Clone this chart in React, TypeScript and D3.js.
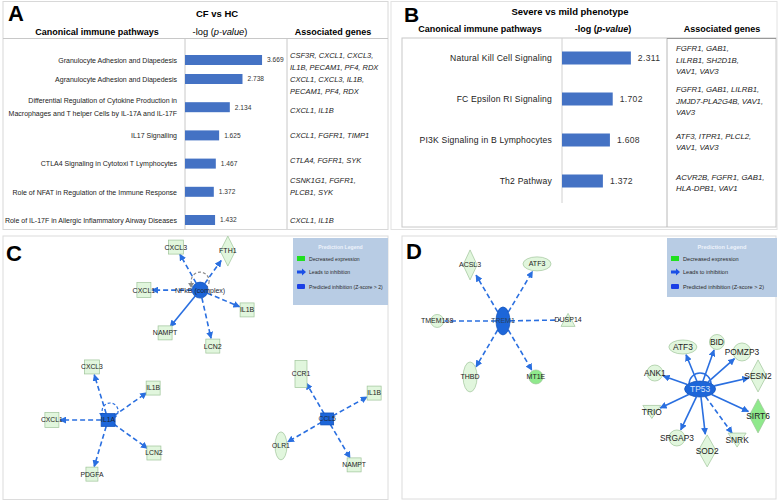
import React from 'react';
import * as d3 from 'd3';

// ---------- Panel A data ----------
const pathwaysA: string[][] = [
  ['Granulocyte Adhesion and Diapedesis'],
  ['Agranulocyte Adhesion and Diapedesis'],
  ['Differential Regulation of Cytokine Production in', 'Macrophages and T helper Cells by IL-17A and IL-17F'],
  ['IL17 Signalling'],
  ['CTLA4 Signaling in Cytotoxi T Lymphocytes'],
  ['Role of NFAT in Regulation of the Immune Response'],
  ['Role of IL-17F in Allergic Inflammatory Airway Diseases'],
];
const valuesA = [3.669, 2.738, 2.134, 1.625, 1.467, 1.372, 1.432];
const genesA: string[][] = [
  ['CSF3R, CXCL1, CXCL3,', 'IL1B, PECAM1, PF4, RDX'],
  ['CXCL1, CXCL3, IL1B,', 'PECAM1, PF4, RDX'],
  ['CXCL1, IL1B'],
  ['CXCL1, FGFR1, TIMP1'],
  ['CTLA4, FGFR1, SYK'],
  ['CSNK1G1, FGFR1,', 'PLCB1, SYK'],
  ['CXCL1, IL1B'],
];

// ---------- Panel B data ----------
const pathwaysB = ['Natural Kill Cell Signaling', 'FC Epsilon RI Signaling', 'PI3K Signaling in B Lymphocytes', 'Th2 Pathway'];
const valuesB = [2.311, 1.702, 1.608, 1.372];
const genesB: string[][] = [
  ['FGFR1, GAB1,', 'LILRB1, SH2D1B,', 'VAV1, VAV3'],
  ['FGFR1, GAB1, LILRB1,', 'JMJD7-PLA2G4B, VAV1,', 'VAV3'],
  ['ATF3, ITPR1, PLCL2,', 'VAV1, VAV3'],
  ['ACVR2B, FGFR1, GAB1,', 'HLA-DPB1, VAV1'],
];

// ---------- Networks (relationships) ----------
const networkC = [
  { hub: 'NFkB (complex)', targets: ['CXCL3', 'FTH1', 'CXCL1', 'IL1B', 'NAMPT', 'LCN2'], dashed: [1, 1, 1, 1, 0, 1], arrow: [1, 1, 1, 1, 1, 1] },
  { hub: 'IL1A', targets: ['CXCL3', 'IL1B', 'CXCL1', 'LCN2', 'PDGFA'], dashed: [1, 1, 1, 1, 1], arrow: [1, 1, 1, 1, 1] },
  { hub: 'CCL5', targets: ['CCR1', 'IL1B', 'OLR1', 'NAMPT'], dashed: [1, 1, 1, 1], arrow: [1, 1, 1, 1] },
];
const networkD = [
  { hub: 'TREM1', targets: ['ACSL3', 'ATF3', 'TMEM158', 'DUSP14', 'THBD', 'MT1E'], dashed: [1, 1, 1, 1, 1, 1], arrow: [1, 1, 0, 0, 1, 1] },
  { hub: 'TP53', targets: ['ATF3', 'BID', 'POMZP3', 'ANK1', 'SESN2', 'SIRT6', 'TRIO', 'SRGAP3', 'SOD2', 'SNRK'], dashed: [0, 0, 0, 0, 0, 0, 0, 0, 0, 1], arrow: [1, 1, 1, 1, 1, 1, 1, 1, 1, 1] },
];
const legendItems = ['Decreased expression', 'Leads to inhibition', 'Predicted inhibition (Z-score > 2)'];

// ---------- Layout (panel units 0..100) ----------
const layoutC = [
  { hub: [51.2, 20.5], nodes: [[44.9, 4.2], [58.4, 5.7], [36.6, 20.5], [63.4, 28.0], [42.1, 36.7], [54.5, 41.7]], loop: { dx: 0, dy: -9, r: 9, color: '#8a8a8a', dash: true, half: false } },
  { hub: [27.3, 69.7], nodes: [[23.1, 49.6], [39.0, 57.6], [12.7, 69.7], [39.2, 82.2], [23.1, 90.2]], loop: { dx: 2, dy: -9, r: 8, color: '#2a6fe0', dash: true, half: false } },
  { hub: [84.2, 69.3], nodes: [[77.4, 52.3], [96.4, 59.5], [72.2, 79.5], [91.2, 86.7]], loop: null },
];
const layoutD = [
  { hub: [27.0, 32.3], nodes: [[18.2, 11.0], [36.1, 10.6], [9.4, 32.3], [44.4, 31.9], [18.2, 53.6], [35.8, 53.6]], loop: null },
  { hub: [79.7, 58.2], nodes: [[75.1, 42.2], [84.2, 40.3], [90.9, 44.1], [67.6, 52.1], [95.2, 53.2], [95.2, 68.4], [66.8, 66.9], [73.5, 76.8], [81.6, 81.7], [89.6, 77.6]], loop: { dx: 0, dy: -9, r: 11, color: '#2a6fe0', dash: false, half: true } },
];

type Shape = 'rect' | 'diamond' | 'ellipse' | 'tri' | 'itri';
interface Spec { s: Shape; w: number; h: number; bright?: boolean }
const shapesC: Record<string, Spec> = {
  'NFkB (complex)': { s: 'ellipse', w: 16, h: 16 },
  IL1A: { s: 'rect', w: 14, h: 13 },
  CCL5: { s: 'rect', w: 13, h: 12 },
  CXCL3: { s: 'rect', w: 15, h: 14 },
  FTH1: { s: 'diamond', w: 15, h: 30 },
  CXCL1: { s: 'rect', w: 14, h: 15 },
  IL1B: { s: 'rect', w: 14, h: 14 },
  NAMPT: { s: 'rect', w: 14, h: 14 },
  LCN2: { s: 'rect', w: 14, h: 14 },
  PDGFA: { s: 'rect', w: 12, h: 14 },
  CCR1: { s: 'rect', w: 12, h: 27 },
  OLR1: { s: 'ellipse', w: 12, h: 28 },
};
const shapesD: Record<string, Spec> = {
  TREM1: { s: 'ellipse', w: 14, h: 28 },
  TP53: { s: 'ellipse', w: 31, h: 16 },
  ACSL3: { s: 'diamond', w: 14, h: 30 },
  ATF3: { s: 'ellipse', w: 28, h: 14 },
  TMEM158: { s: 'ellipse', w: 13, h: 13 },
  DUSP14: { s: 'tri', w: 14, h: 13 },
  THBD: { s: 'ellipse', w: 14, h: 30 },
  MT1E: { s: 'ellipse', w: 14, h: 14, bright: true },
  BID: { s: 'ellipse', w: 15, h: 15 },
  POMZP3: { s: 'ellipse', w: 18, h: 18 },
  ANK1: { s: 'ellipse', w: 16, h: 16 },
  SESN2: { s: 'diamond', w: 17, h: 32 },
  SIRT6: { s: 'diamond', w: 18, h: 34, bright: true },
  TRIO: { s: 'itri', w: 18, h: 13 },
  SRGAP3: { s: 'ellipse', w: 16, h: 16 },
  SOD2: { s: 'diamond', w: 18, h: 32 },
  SNRK: { s: 'itri', w: 18, h: 14 },
};

const BAR = '#4472c4';
const EDGE = '#2a6fe0';
const HUB = '#1d66d9';
const PALE = '#e1f6dd';
const PALE_STROKE = '#9fc49a';
const BRIGHT = '#8fe98c';
const SANS = "'Liberation Sans', Arial, sans-serif";

const xA = d3.scaleLinear().domain([0, 4]).range([185, 269]);
const yA = d3.scaleLinear().domain([0, 1, 6]).range([60, 79, 220]);
const yGenesA = d3.scaleLinear().domain([0, 1, 2, 3, 5, 6]).range([61, 85, 110, 135, 186, 220]);
const xB = d3.scaleLinear().domain([0, 3]).range([562, 651.4]);
const yB = d3.scaleLinear().domain([0, 3]).range([58, 181]);
const xC = d3.scaleLinear().domain([0, 100]).range([3, 388]);
const yC = d3.scaleLinear().domain([0, 100]).range([236, 500]);
const xD = d3.scaleLinear().domain([0, 100]).range([402, 776]);
const yD = d3.scaleLinear().domain([0, 100]).range([236, 499]);

function shapeEl(x: number, y: number, sp: Spec, fill: string, stroke: string, key?: string) {
  const { s, w, h } = sp;
  const p = { fill, stroke, strokeWidth: 0.7 };
  if (s === 'rect') return <rect key={key} x={x - w / 2} y={y - h / 2} width={w} height={h} {...p} />;
  if (s === 'ellipse') return <ellipse key={key} cx={x} cy={y} rx={w / 2} ry={h / 2} {...p} />;
  if (s === 'diamond') return <polygon key={key} points={`${x},${y - h / 2} ${x + w / 2},${y} ${x},${y + h / 2} ${x - w / 2},${y}`} {...p} />;
  if (s === 'tri') return <polygon key={key} points={`${x},${y - h / 2} ${x + w / 2},${y + h / 2} ${x - w / 2},${y + h / 2}`} {...p} />;
  return <polygon key={key} points={`${x - w / 2},${y - h / 2} ${x + w / 2},${y - h / 2} ${x},${y + h / 2}`} {...p} />;
}

function boundary(sp: Spec, ux: number, uy: number) {
  const rx = sp.w / 2, ry = sp.h / 2;
  return 1 / Math.sqrt((ux / rx) ** 2 + (uy / ry) ** 2);
}

function Network({ net, layout, shapes, sx, sy, fs, hubText, id }: any) {
  const els: any[] = [];
  net.forEach((c: any, ci: number) => {
    const L = layout[ci];
    const hx = sx(L.hub[0]), hy = sy(L.hub[1]);
    const hs: Spec = shapes[c.hub];
    c.targets.forEach((t: string, ti: number) => {
      const nx = sx(L.nodes[ti][0]), ny = sy(L.nodes[ti][1]);
      const dx = nx - hx, dy = ny - hy;
      const len = Math.hypot(dx, dy);
      const ux = dx / len, uy = dy / len;
      const a = boundary(hs, ux, uy);
      const b = boundary(shapes[t], -ux, -uy) + 1;
      els.push(
        <line key={`e${ci}-${ti}`} x1={hx + ux * a} y1={hy + uy * a} x2={nx - ux * b} y2={ny - uy * b}
          stroke={EDGE} strokeWidth={1.6} strokeDasharray={c.dashed[ti] ? '5,3' : undefined}
          markerEnd={c.arrow[ti] ? `url(#arr${id})` : undefined} />
      );
    });
    if (L.loop) {
      const lp = L.loop;
      const cx = hx + lp.dx, cy = hy + lp.dy;
      if (lp.half) {
        els.push(<path key={`l${ci}`} d={`M${cx - lp.r},${cy + 4} A${lp.r},${lp.r} 0 1 1 ${cx + lp.r},${cy + 4}`} fill="none" stroke={lp.color} strokeWidth={1.4} />);
      } else {
        els.push(<circle key={`l${ci}`} cx={cx} cy={cy} r={lp.r} fill="none" stroke={lp.color} strokeWidth={1.2} strokeDasharray={lp.dash ? '3,2' : undefined} />);
        els.push(<polygon key={`lh${ci}`} points={`${cx - lp.r - 3},${cy + 2} ${cx - lp.r + 3},${cy + 2} ${cx - lp.r},${cy + 7}`} fill={lp.color} />);
      }
    }
    c.targets.forEach((t: string, ti: number) => {
      const nx = sx(L.nodes[ti][0]), ny = sy(L.nodes[ti][1]);
      const sp: Spec = shapes[t];
      els.push(shapeEl(nx, ny, sp, sp.bright ? BRIGHT : PALE, PALE_STROKE, `n${ci}-${ti}`));
      els.push(<text key={`t${ci}-${ti}`} x={nx} y={ny} dy="0.35em" textAnchor="middle" fontSize={fs[ci]} fill="#222" fontFamily={SANS}>{t}</text>);
    });
    els.push(shapeEl(hx, hy, hs, HUB, '#0f4fb8', `h${ci}`));
    els.push(<text key={`ht${ci}`} x={hx} y={hy} dy="0.35em" textAnchor="middle" fontSize={fs[ci]} fill={hubText[ci]} fontFamily={SANS}>{c.hub}</text>);
  });
  return <g>{els}</g>;
}

function Legend({ x, y, w, h, fs }: any) {
  const rows = [y + 21, y + 34, y + 49];
  return (
    <g fontFamily={SANS}>
      <rect x={x} y={y} width={w} height={h} fill="#b8cce4" />
      <text x={x + w / 2} y={y + 11} textAnchor="middle" fontSize={fs} fill="#eef3fb" fontWeight="bold">Prediction Legend</text>
      {legendItems.map((t, i) => (
        <g key={t}>
          {i === 0 && <rect x={x + 4} y={rows[i] - 3} width={8} height={5} fill="#1fe01f" />}
          {i === 1 && <path d={`M${x + 4},${rows[i] - 1.5} h5 v-2 l4,3.5 l-4,3.5 v-2 h-5 z`} fill="#1a4fe6" />}
          {i === 2 && <rect x={x + 4} y={rows[i] - 3} width={8} height={5} fill="#1a3fe6" rx={1} />}
          <text x={x + 16} y={rows[i]} dy="0.35em" fontSize={fs} fill="#2a2a2a">{t}</text>
        </g>
      ))}
    </g>
  );
}

export default function App() {
  return (
    <svg width={778} height={502} style={{ position: 'absolute', left: 0, top: 0, background: '#fff' }} fontFamily={SANS}>
      <defs>
        {['C', 'D'].map((id) => (
          <marker key={id} id={`arr${id}`} viewBox="0 0 10 10" refX="9" refY="5" markerWidth="7" markerHeight="7" orient="auto" markerUnits="userSpaceOnUse">
            <path d="M0,0 L10,5 L0,10 z" fill={EDGE} />
          </marker>
        ))}
      </defs>
      <rect x={0} y={0} width={778} height={502} fill="#fff" />

      {/* ---------------- Panel A ---------------- */}
      <rect x={3} y={1.5} width={385} height={228} fill="#fff" stroke="#d8d8d8" strokeWidth={1} />
      <text x={8} y={21} fontSize={22} fontWeight="bold">A</text>
      <text x={217} y={17} textAnchor="middle" fontSize={9.5} fontWeight="bold">CF vs HC</text>
      <text x={97} y={35} textAnchor="middle" fontSize={9} fontWeight="bold">Canonical immune pathways</text>
      <text x={220} y={35} textAnchor="middle" fontSize={9.3}>-log (<tspan fontStyle="italic">p-value</tspan>)</text>
      <text x={333} y={35} textAnchor="middle" fontSize={9} fontWeight="bold">Associated genes</text>
      <line x1={3} x2={388} y1={38.5} y2={38.5} stroke="#c8c8c8" />
      <line x1={185} x2={185} y1={38.5} y2={229} stroke="#c8c8c8" />
      <line x1={287} x2={287} y1={38.5} y2={229} stroke="#c8c8c8" />
      {valuesA.map((v, i) => {
        const y = yA(i);
        const gy = yGenesA(i);
        return (
          <g key={i}>
            <rect x={xA(0)} y={y - 5} width={xA(v) - xA(0)} height={10} fill={BAR} />
            <text x={xA(v) + 5} y={y} dy="0.35em" fontSize={6.6} fill="#333">{v.toFixed(3)}</text>
            {pathwaysA[i].map((l, j, arr) => (
              <text key={j} transform={`translate(177,${y + (j - (arr.length - 1) / 2) * 13}) scale(0.9,1)`} dy="0.35em" textAnchor="end" fontSize={7.8} fill="#222">{l}</text>
            ))}
            {genesA[i].map((l, j, arr) => (
              <text key={`g${j}`} x={290} y={gy + (j - (arr.length - 1) / 2) * 12} dy="0.35em" fontSize={7.5} fontStyle="italic" fill="#222">{l}</text>
            ))}
          </g>
        );
      })}

      {/* ---------------- Panel B ---------------- */}
      <rect x={391} y={1.5} width={386} height={228} fill="#fff" stroke="#e2e2e2" strokeWidth={1} />
      <text x={404} y={22} fontSize={21} fontWeight="bold">B</text>
      <text x={570} y={15} textAnchor="middle" fontSize={9.5} fontWeight="bold">Severe vs mild phenotype</text>
      <text x={480} y={32} textAnchor="middle" fontSize={9} fontWeight="bold">Canonical immune pathways</text>
      <text x={603} y={32} textAnchor="middle" fontSize={9} fontWeight="bold">-log (<tspan fontStyle="italic">p-value</tspan>)</text>
      <text x={722} y={32} textAnchor="middle" fontSize={9} fontWeight="bold">Associated genes</text>
      <rect x={402} y={38} width={374} height={189} fill="none" stroke="#c8c8c8" />
      <line x1={562} x2={562} y1={38} y2={203} stroke="#d0d0d0" />
      <line x1={667} x2={667} y1={38} y2={227} stroke="#b8b8b8" />
      <line x1={667} x2={776} y1={38.5} y2={38.5} stroke="#999" />
      {valuesB.map((v, i) => {
        const y = yB(i);
        return (
          <g key={i}>
            <rect x={xB(0)} y={y - 6.5} width={xB(v) - xB(0)} height={13} fill={BAR} />
            <text x={xB(v) + 7} y={y} dy="0.35em" fontSize={8.6} fill="#333" letterSpacing={0.3}>{v.toFixed(3)}</text>
            <text x={552} y={y} dy="0.35em" textAnchor="end" fontSize={8.6} fill="#222" letterSpacing={0.2}>{pathwaysB[i]}</text>
            {genesB[i].map((l, j, arr) => (
              <text key={j} x={676} y={y + 2 + (j - (arr.length - 1) / 2) * 11.5} dy="0.35em" fontSize={7.8} fontStyle="italic" fill="#222">{l}</text>
            ))}
          </g>
        );
      })}

      {/* ---------------- Panel C ---------------- */}
      <rect x={3} y={236} width={385} height={263.5} fill="#fff" stroke="#dcdcdc" />
      <Legend x={293} y={238} w={95} h={67} fs={5.1} />
      <Network net={networkC} layout={layoutC} shapes={shapesC} sx={xC} sy={yC} fs={[7, 6.8, 6.8]} hubText={['#1c2535', '#1c2535', '#1c2535']} id="C" />
      <text x={6} y={261} fontSize={22} fontWeight="bold">C</text>

      {/* ---------------- Panel D ---------------- */}
      <rect x={402} y={236} width={374} height={263} fill="#fff" stroke="#dcdcdc" />
      <Legend x={667} y={238} w={110} h={59} fs={5.6} />
      <Network net={networkD} layout={layoutD} shapes={shapesD} sx={xD} sy={yD} fs={[7, 8.4]} hubText={['#27415f', '#d6e4fb']} id="D" />
      <text x={406} y={259} fontSize={22} fontWeight="bold">D</text>
    </svg>
  );
}
